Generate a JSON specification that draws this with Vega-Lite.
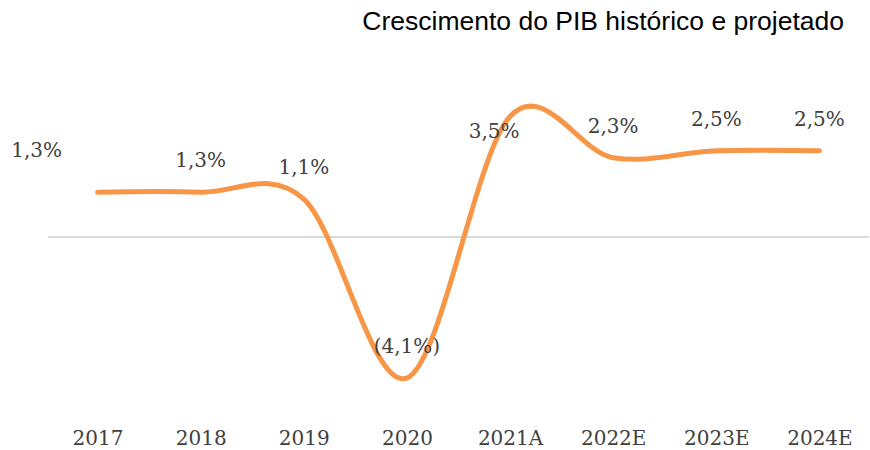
{
  "$schema": "https://vega.github.io/schema/vega-lite/v6.json",
  "autosize": "none",
  "width": 825,
  "height": 338,
  "padding": {"left": 46, "top": 82, "right": 0, "bottom": 30},
  "background": "white",
  "title": {"text": "Crescimento do PIB histórico e projetado", "anchor": "end", "font": "Liberation Sans", "fontSize": 26.5, "fontWeight": "normal", "color": "#000000", "offset": 47, "dx": -27},
  "config": {"view": {"stroke": null}},
  "data": {"values": [
    {"ano": "2017", "pib": 1.3, "label": "1,3%"},
    {"ano": "2018", "pib": 1.3, "label": "1,3%"},
    {"ano": "2019", "pib": 1.1, "label": "1,1%"},
    {"ano": "2020", "pib": -4.1, "label": "(4,1%)"},
    {"ano": "2021A", "pib": 3.5, "label": "3,5%"},
    {"ano": "2022E", "pib": 2.3, "label": "2,3%"},
    {"ano": "2023E", "pib": 2.5, "label": "2,5%"},
    {"ano": "2024E", "pib": 2.5, "label": "2,5%"}
  ]},
  "encoding": {
    "x": {"field": "ano", "type": "ordinal", "sort": null, "scale": {"paddingInner": 0, "paddingOuter": 0},
      "axis": {"title": null, "domain": false, "ticks": false, "labelAngle": 0, "labelFont": "DejaVu Serif", "labelFontSize": 20, "labelColor": "#404040", "labelPadding": 8}},
    "y": {"field": "pib", "type": "quantitative", "scale": {"domain": [-5.32, 4.5], "nice": false, "zero": false}, "axis": null}
  },
  "layer": [
    {"mark": {"type": "rule", "color": "#d9d9d9", "strokeWidth": 1.5}, "encoding": {"x": {"value": 2}, "x2": {"value": 823}, "y": {"datum": 0}}},
    {"mark": {"type": "line", "interpolate": "cardinal", "color": "#F79646", "strokeWidth": 5, "strokeCap": "round"}},
    {"transform": [{"filter": "datum.ano != '2017' && datum.ano != '2021A'"}],
      "mark": {"type": "text", "font": "DejaVu Serif", "fontSize": 20, "color": "#404040", "dy": -31},
      "encoding": {"text": {"field": "label"}}},
    {"transform": [{"filter": "datum.ano == '2017'"}],
      "mark": {"type": "text", "font": "DejaVu Serif", "fontSize": 20, "color": "#404040", "dx": -61, "dy": -41},
      "encoding": {"text": {"field": "label"}}},
    {"transform": [{"filter": "datum.ano == '2021A'"}],
      "mark": {"type": "text", "font": "DejaVu Serif", "fontSize": 20, "color": "#404040", "dx": -16, "dy": 16},
      "encoding": {"text": {"field": "label"}}}
  ]
}
